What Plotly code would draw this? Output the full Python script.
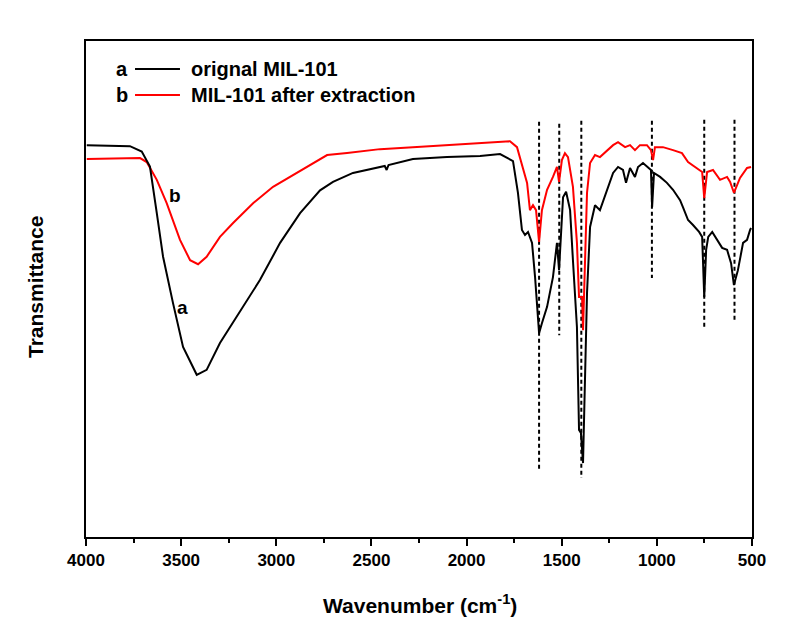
import plotly.graph_objects as go

# FT-IR spectra of MIL-101 before (a) and after (b) extraction
wn_a = [3996, 3769, 3707, 3664, 3628, 3595, 3543, 3490, 3418, 3366, 3296, 3208,
        3086, 2980, 2875, 2770, 2702, 2597, 2455, 2430, 2420, 2410, 2282, 2103,
        1929, 1824, 1756, 1730, 1709, 1693, 1677, 1656, 1640, 1619, 1604, 1577,
        1546, 1525, 1514, 1504, 1493, 1477, 1456, 1441, 1420, 1409, 1399, 1388,
        1378, 1367, 1351, 1325, 1299, 1262, 1230, 1204, 1178, 1162, 1141, 1115,
        1099, 1073, 1047, 1031, 1025, 1015, 983, 947, 915, 878, 863, 836, 810,
        778, 762, 751, 741, 730, 709, 683, 657, 631, 610, 595, 574, 547, 526,
        510, 505]
t_a = [79.0, 78.8, 77.7, 74.7, 65.3, 56.5, 47.2, 38.3, 32.7, 33.7, 39.1, 44.4,
       51.8, 59.3, 65.3, 69.9, 71.6, 73.4, 74.6, 74.8, 74.0, 75.0, 76.2, 76.6,
       76.8, 77.2, 75.8, 69.4, 61.9, 60.9, 61.5, 59.3, 52.4, 41.1, 43.1, 46.4,
       52.4, 59.3, 53.8, 60.5, 68.5, 69.6, 65.9, 55.8, 42.3, 21.6, 21.0, 14.9,
       32.3, 49.2, 62.5, 66.9, 65.9, 70.0, 73.4, 74.6, 74.0, 71.4, 74.4, 72.6,
       74.6, 75.4, 74.6, 74.0, 66.5, 73.4, 72.6, 71.4, 70.0, 67.9, 66.5, 63.9,
       62.9, 61.5, 60.5, 48.4, 57.9, 60.5, 61.5, 59.9, 58.3, 57.9, 55.2, 50.8,
       53.8, 59.3, 59.9, 61.9, 62.3]

wn_b = [3996, 3716, 3681, 3628, 3576, 3506, 3453, 3411, 3366, 3296, 3227, 3122,
        3017, 2928, 2839, 2733, 2628, 2455, 2282, 2103, 1929, 1772, 1735, 1703,
        1682, 1667, 1651, 1635, 1619, 1604, 1577, 1546, 1525, 1514, 1499, 1483,
        1467, 1441, 1420, 1409, 1393, 1388, 1378, 1367, 1351, 1325, 1299, 1262,
        1230, 1204, 1167, 1141, 1115, 1089, 1052, 1031, 1020, 1010, 968, 915,
        868, 836, 800, 762, 751, 736, 705, 668, 631, 615, 595, 563, 526, 505]
t_b = [76.2, 76.4, 75.6, 72.0, 67.3, 59.9, 55.8, 55.0, 56.5, 60.5, 63.3, 67.3,
       70.6, 72.6, 74.6, 77.0, 77.4, 78.2, 78.6, 79.0, 79.4, 79.8, 78.6, 74.0,
       71.4, 65.9, 66.9, 65.9, 59.5, 65.9, 70.0, 72.6, 74.6, 71.6, 76.0, 77.4,
       76.6, 70.6, 59.3, 48.4, 48.4, 41.7, 55.8, 69.4, 75.4, 77.0, 76.6, 78.0,
       79.0, 79.6, 78.6, 79.0, 78.0, 79.0, 79.0, 78.0, 76.0, 78.6, 78.6, 78.0,
       77.4, 75.6, 74.6, 73.6, 68.3, 73.6, 74.0, 72.0, 72.6, 71.6, 69.4, 72.4,
       74.4, 74.6]

# marked absorption bands (vertical guide lines)
band_wn = [1619, 1513, 1397, 1026, 751, 592]
band_top = [83.7, 83.3, 83.9, 83.9, 84.1, 84.1]
band_bottom = [13.5, 40.7, 11.9, 52.2, 42.1, 43.3]

x_ticks = [4000, 3500, 3000, 2500, 2000, 1500, 1000, 500]
legend_tags = ["a", "b"]
legend_names = ["orignal MIL-101", "MIL-101 after extraction"]
curve_colors = ["#000000", "#ff0000"]

FONT = "Liberation Sans, Arial, sans-serif"

fig = go.Figure()

for w, top, bot in zip(band_wn, band_top, band_bottom):
    fig.add_trace(go.Scatter(x=[w, w], y=[top, bot], mode="lines",
                             line=dict(color="black", width=2, dash="4px,3px"),
                             showlegend=False, hoverinfo="skip"))

fig.add_trace(go.Scatter(x=wn_b, y=t_b, mode="lines", name=legend_names[1],
                         line=dict(color=curve_colors[1], width=2), showlegend=False))
fig.add_trace(go.Scatter(x=wn_a, y=t_a, mode="lines", name=legend_names[0],
                         line=dict(color=curve_colors[0], width=2), showlegend=False))

# curve labels
fig.add_annotation(x=3495, y=46.2, text="<b>a</b>", showarrow=False,
                   font=dict(family=FONT, size=19, color="black"))
fig.add_annotation(x=3532, y=68.8, text="<b>b</b>", showarrow=False,
                   font=dict(family=FONT, size=19, color="black"))

# hand-built legend in the upper-left corner
legend_rows = [0.9435, 0.891]
for tag, name, color, yy in zip(legend_tags, legend_names, curve_colors, legend_rows):
    fig.add_shape(type="line", xref="paper", yref="paper",
                  x0=0.0736, x1=0.1411, y0=yy, y1=yy,
                  line=dict(color=color, width=2))
    fig.add_annotation(xref="paper", yref="paper", x=0.066, y=yy, text=f"<b>{tag}</b>",
                       showarrow=False, xanchor="right", yanchor="middle",
                       font=dict(family=FONT, size=20, color="black"))
    fig.add_annotation(xref="paper", yref="paper", x=0.1547, y=yy, text=f"<b>{name}</b>",
                       showarrow=False, xanchor="left", yanchor="middle",
                       font=dict(family=FONT, size=20, color="black"))

# axis titles
fig.add_annotation(xref="paper", yref="paper", x=0.5015, y=-0.135,
                   text="<b>Wavenumber (cm<sup>-1</sup>)</b>", showarrow=False,
                   xanchor="center", yanchor="middle",
                   font=dict(family=FONT, size=21, color="black"))
fig.add_annotation(xref="paper", yref="paper", x=-0.0766, y=0.504,
                   text="<b>Transmittance</b>", showarrow=False, textangle=-90,
                   xanchor="center", yanchor="middle",
                   font=dict(family=FONT, size=21, color="black"))

fig.update_layout(
    width=790, height=618,
    margin=dict(l=86, r=38, t=41, b=81),
    paper_bgcolor="white", plot_bgcolor="white",
    showlegend=False,
)
fig.update_xaxes(
    range=[4000, 500], tickvals=x_ticks,
    ticktext=[f"<b>{v}</b>" for v in x_ticks],
    ticks="outside", ticklen=7, tickwidth=2, tickcolor="black",
    minor=dict(ticks="outside", ticklen=4, tickwidth=2, tickcolor="black", dtick=250),
    showline=True, linewidth=2, linecolor="black", mirror=True,
    showgrid=False, zeroline=False,
    tickfont=dict(family=FONT, size=17, color="black"),
)
fig.update_yaxes(
    range=[0, 100], showticklabels=False, ticks="",
    showline=True, linewidth=2, linecolor="black", mirror=True,
    showgrid=False, zeroline=False,
)

fig.write_html("out.html")
